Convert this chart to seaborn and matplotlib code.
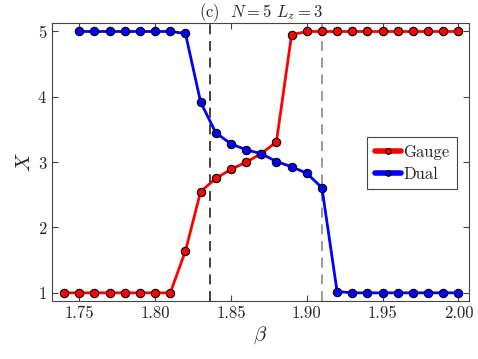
import numpy as np
import pandas as pd
import matplotlib
matplotlib.use("Agg")
import matplotlib.pyplot as plt
import seaborn as sns

beta_gauge = [1.74, 1.75, 1.76, 1.77, 1.78, 1.79, 1.80, 1.81, 1.82, 1.83, 1.84,
              1.85, 1.86, 1.87, 1.88, 1.89, 1.90, 1.91, 1.92, 1.93, 1.94, 1.95,
              1.96, 1.97, 1.98, 1.99, 2.00]
x_gauge = [1.0, 1.0, 1.0, 1.0, 1.0, 1.0, 1.0, 1.0, 1.64, 2.55, 2.75,
           2.89, 3.00, 3.13, 3.31, 4.95, 5.0, 5.0, 5.0, 5.0, 5.0, 5.0,
           5.0, 5.0, 5.0, 5.0, 5.0]

beta_dual = [1.75, 1.76, 1.77, 1.78, 1.79, 1.80, 1.81, 1.82, 1.83, 1.84,
             1.85, 1.86, 1.87, 1.88, 1.89, 1.90, 1.91, 1.92, 1.93, 1.94, 1.95,
             1.96, 1.97, 1.98, 1.99, 2.00]
x_dual = [5.0, 5.0, 5.0, 5.0, 5.0, 5.0, 5.0, 4.97, 3.92, 3.45,
          3.28, 3.19, 3.13, 3.01, 2.93, 2.83, 2.61, 1.02, 1.0, 1.0, 1.0,
          1.0, 1.0, 1.0, 1.0, 1.0]

beta_c1 = 1.836
beta_c2 = 1.91

df = pd.concat([
    pd.DataFrame({"beta": beta_gauge, "X": x_gauge, "series": "Gauge"}),
    pd.DataFrame({"beta": beta_dual, "X": x_dual, "series": "Dual"}),
])

sns.set_style("ticks")
plt.rcParams["font.family"] = "serif"
plt.rcParams["font.serif"] = ["cmr10"]
plt.rcParams["mathtext.fontset"] = "cm"
plt.rcParams["axes.formatter.use_mathtext"] = True

fig = plt.figure(figsize=(4.78, 3.59), dpi=100)
ax = fig.add_axes([52 / 478, 1 - 301 / 359, (469 - 52) / 478, (301 - 23) / 359])

ax.axvline(beta_c1, color="#222222", ls=(0, (6, 4)), lw=1.2, zorder=1)
ax.axvline(beta_c2, color="#888888", ls=(0, (6, 4)), lw=1.2, zorder=1)

sns.lineplot(data=df, x="beta", y="X", hue="series",
             palette={"Gauge": "#ff0000", "Dual": "#0000ff"},
             marker="o", markersize=6, markeredgecolor="black",
             markeredgewidth=0.8, linewidth=2, ax=ax, zorder=3)

ax.set_xlim(1.732, 2.007)
ax.set_ylim(0.875, 5.13)
ax.set_xticks([1.75, 1.80, 1.85, 1.90, 1.95, 2.00])
ax.set_xticklabels(["1.75", "1.80", "1.85", "1.90", "1.95", "2.00"])
ax.set_yticks([1, 2, 3, 4, 5])
ax.tick_params(direction="in", top=True, right=True, labelsize=12, length=4,
               color="#444444")
for s in ax.spines.values():
    s.set_color("#444444")
    s.set_linewidth(0.8)

ax.set_xlabel(r"$\beta$", fontsize=15, labelpad=2)
ax.set_ylabel(r"$X$", fontsize=15, labelpad=2)
ax.set_title(r"(c)  $N=5$ $L_z=3$", fontsize=12, pad=4)

leg = ax.legend(loc="center right", bbox_to_anchor=(0.971, 0.496),
                borderaxespad=0, fontsize=12,
                fancybox=False, edgecolor="#444444", framealpha=1,
                handlelength=1.6, handletextpad=0.1, borderpad=0.45,
                labelspacing=0.4)
leg.get_frame().set_linewidth(0.8)
for h in leg.get_lines():
    h.set_linewidth(4)
    h.set_markersize(4)

fig.savefig("out.png", dpi=100)
